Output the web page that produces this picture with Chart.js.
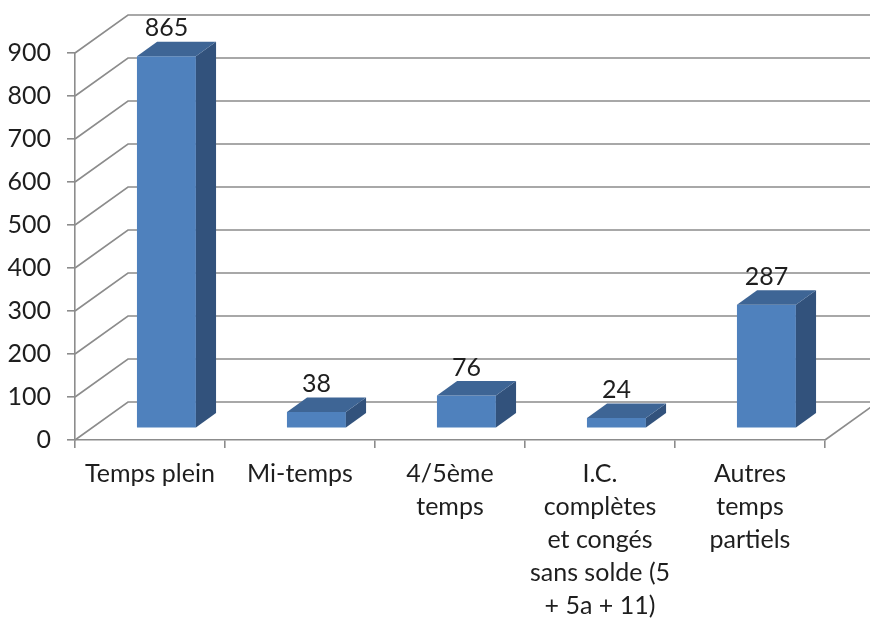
<!DOCTYPE html>
<html>
<head>
<meta charset="utf-8">
<script src="https://cdn.jsdelivr.net/npm/chart.js@4/dist/chart.umd.min.js"></script>
<style>
  html, body { margin: 0; padding: 0; background: #ffffff; }
  #wrap { width: 870px; height: 621px; position: relative; }
</style>
</head>
<body>
<div id="wrap"><canvas id="c"></canvas></div>
<script>
// Effectifs par régime de travail
const categories = [
  'Temps plein',
  'Mi-temps',
  ['4/5ème', 'temps'],
  ['I.C.', 'complètes', 'et congés', 'sans solde (5', '+ 5a + 11)'],
  ['Autres', 'temps', 'partiels']
];
const values = [865, 38, 76, 24, 287];
const yTicks = [0, 100, 200, 300, 400, 500, 600, 700, 800, 900];

const FONT = 'Lato, "Open Sans", sans-serif';
const GRID = '#8c8c8c';
const TEXT = '#1e1e1e';

// 3D projection: full depth of the floor, and the slab taken by the columns
const DEPTH = { dx: 53, dy: -38 };
const BAR_FRONT = 0.31;   // fraction of depth where the column faces start
const BAR_DEPTH = 0.38;   // fraction of depth the columns occupy

const faceColors = { front: '#4f81bd', top: '#3e6595', side: '#32527c' };

const walls3d = {
  id: 'walls3d',
  beforeDatasetsDraw(chart) {
    const { ctx, chartArea, scales } = chart;
    const y = scales.y;
    const right = chart.width + 20;
    ctx.save();
    ctx.strokeStyle = GRID;
    ctx.lineWidth = 1.6;
    // side wall diagonals and back wall lines
    yTicks.forEach(v => {
      const py = y.getPixelForValue(v);
      ctx.beginPath();
      ctx.moveTo(chartArea.left, py);
      ctx.lineTo(chartArea.left + DEPTH.dx, py + DEPTH.dy);
      ctx.lineTo(right, py + DEPTH.dy);
      ctx.stroke();
    });
    // right edge of the floor
    const p0 = y.getPixelForValue(0);
    ctx.beginPath();
    ctx.moveTo(chartArea.right, p0);
    ctx.lineTo(chartArea.right + DEPTH.dx, p0 + DEPTH.dy);
    ctx.stroke();
    ctx.restore();

    // columns are drawn inside the depth slab
    ctx.save();
    ctx.translate(DEPTH.dx * BAR_FRONT, DEPTH.dy * BAR_FRONT);
  },
  afterDatasetsDraw(chart) {
    const { ctx } = chart;
    const ddx = DEPTH.dx * BAR_DEPTH, ddy = DEPTH.dy * BAR_DEPTH;
    const meta = chart.getDatasetMeta(0);
    meta.data.forEach(bar => {
      const { x, y, base, width } = bar.getProps(['x', 'y', 'base', 'width'], true);
      const l = x - width / 2, r = x + width / 2;
      // right side face
      ctx.fillStyle = faceColors.side;
      ctx.beginPath();
      ctx.moveTo(r, y);
      ctx.lineTo(r + ddx, y + ddy);
      ctx.lineTo(r + ddx, base + ddy);
      ctx.lineTo(r, base);
      ctx.closePath();
      ctx.fill();
      // top face
      ctx.fillStyle = faceColors.top;
      ctx.beginPath();
      ctx.moveTo(l, y);
      ctx.lineTo(l + ddx, y + ddy);
      ctx.lineTo(r + ddx, y + ddy);
      ctx.lineTo(r, y);
      ctx.closePath();
      ctx.fill();
    });
    // value labels above each column
    ctx.fillStyle = TEXT;
    ctx.font = '25px ' + FONT;
    ctx.textAlign = 'center';
    ctx.textBaseline = 'middle';
    meta.data.forEach((bar, i) => {
      ctx.fillText(String(values[i]), bar.x, bar.y - 28);
    });
    ctx.restore();
  }
};

new Chart(document.getElementById('c'), {
  type: 'bar',
  data: {
    labels: categories,
    datasets: [{
      data: values,
      backgroundColor: faceColors.front,
      borderWidth: 0,
      categoryPercentage: 1,
      barPercentage: 0.393,
      clip: false
    }]
  },
  options: {
    responsive: true,
    maintainAspectRatio: false,
    animation: false,
    events: [],
    layout: { padding: { top: 53, right: 45, left: 0, bottom: 0 } },
    plugins: { legend: { display: false }, tooltip: { enabled: false } },
    scales: {
      x: {
        offset: true,
        grid: {
          display: true,
          drawOnChartArea: false,
          drawTicks: true,
          tickLength: 8,
          offset: true,
          color: GRID,
          lineWidth: 1.6
        },
        border: { display: true, color: GRID, width: 1.6 },
        ticks: {
          color: TEXT,
          font: { family: FONT, size: 25, lineHeight: '33px' },
          padding: 9,
          maxRotation: 0,
          autoSkip: false
        },
        afterFit(scale) { scale.height = 181; }
      },
      y: {
        min: 0,
        max: 900,
        afterBuildTicks(scale) { scale.ticks = yTicks.map(v => ({ value: v })); },
        grid: {
          display: true,
          drawOnChartArea: false,
          drawTicks: true,
          tickLength: 8,
          color: GRID,
          lineWidth: 1.6
        },
        border: { display: true, color: GRID, width: 1.6 },
        ticks: {
          color: TEXT,
          font: { family: FONT, size: 25 },
          padding: 16
        },
        afterFit(scale) { scale.width = 75; }
      }
    }
  },
  plugins: [walls3d]
});
</script>
</body>
</html>
